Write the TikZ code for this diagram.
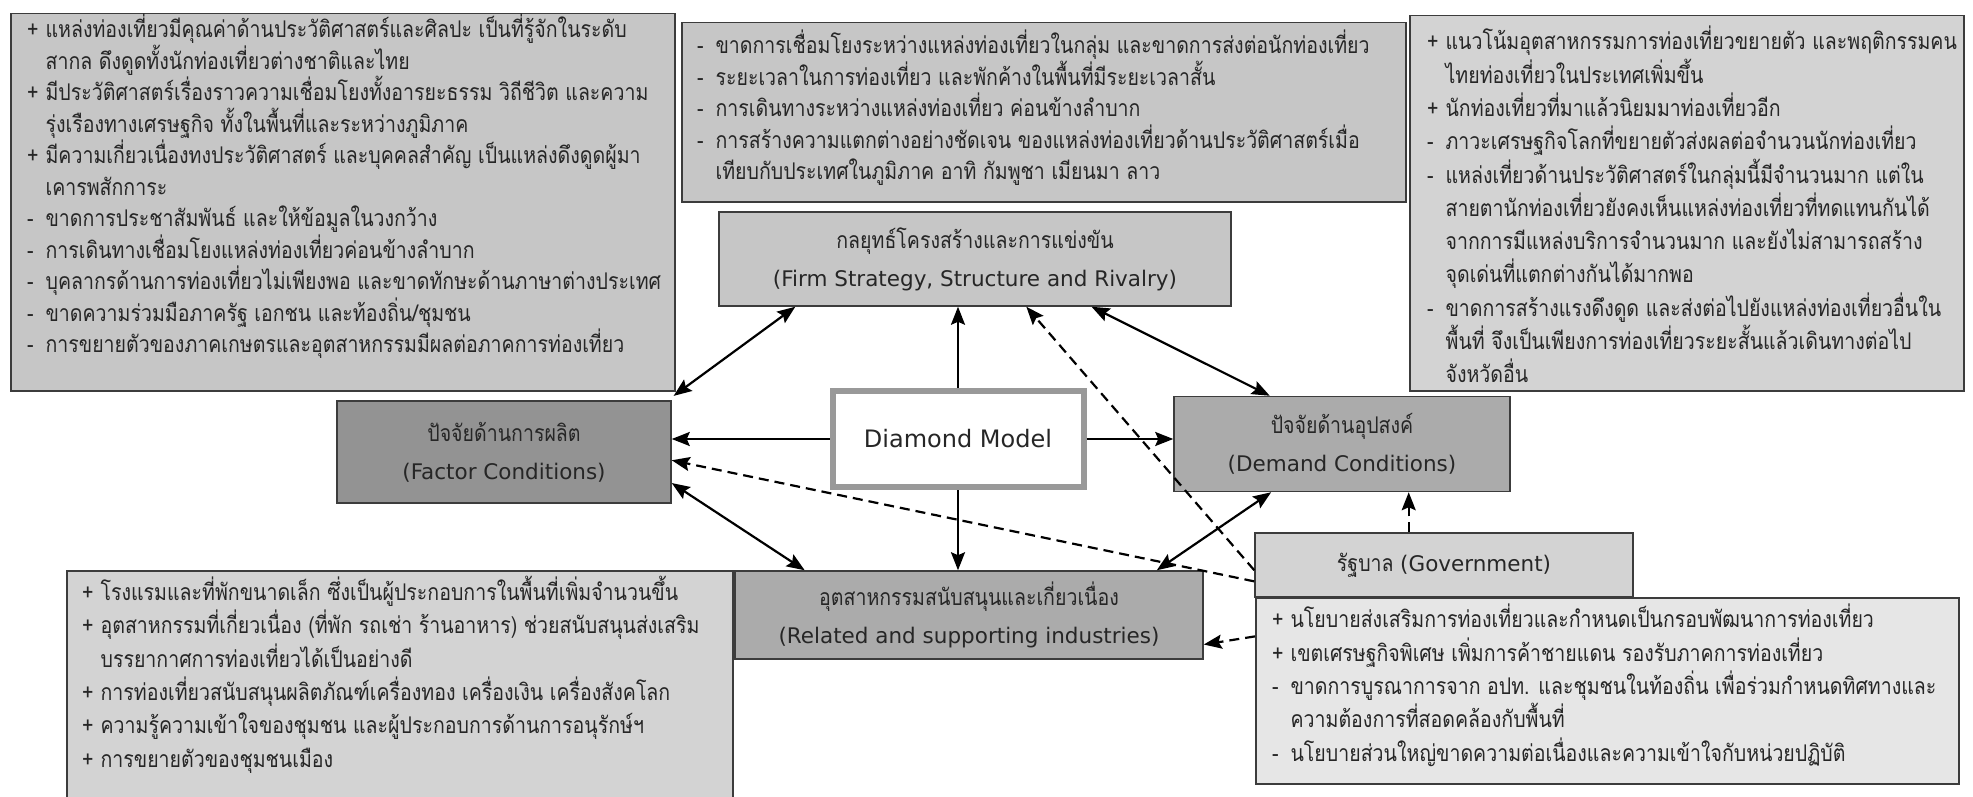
\documentclass[tikz,border=0pt]{standalone}
\usepackage{fontspec}
\setmainfont[Script=Thai,FakeStretch=0.85]{Loma}
\newfontfamily\engfont{DejaVu Sans}
\usetikzlibrary{arrows.meta,calc}

\definecolor{infodark}{HTML}{C6C6C6}
\definecolor{infolight}{HTML}{D3D3D3}
\definecolor{infopale}{HTML}{E6E6E6}
\definecolor{factorfill}{HTML}{939393}
\definecolor{demandfill}{HTML}{ABABAB}
\definecolor{edgegray}{HTML}{3C3C3C}
\definecolor{ringgray}{HTML}{999999}

\newcommand{\plusline}{\makebox[0.8em][l]{+}}
\newcommand{\minusline}{\makebox[0.8em][l]{-}}
\newcommand{\contline}{\hspace*{0.8em}}
\newcommand{\eng}[1]{{\engfont\fontsize{21.5}{38}\selectfont #1}}

\tikzset{
  infobox/.style={draw=edgegray, line width=1.5pt, anchor=north west, inner sep=0pt},
  infotext/.style={anchor=north west, align=left, inner sep=0pt,
    font=\fontsize{23}{31.5}\selectfont, text=black!85},
  widetext/.style={infotext, font=\fontsize{23}{33.3}\selectfont},
  mainbox/.style={draw=edgegray, line width=1.5pt, align=center,
    font=\fontsize{23}{38}\selectfont, text=black!85},
  link/.style={line width=2.2pt, -{Stealth[length=18pt,width=14pt,inset=3pt]}},
  bothlink/.style={line width=2.2pt,
    {Stealth[length=18pt,width=14pt,inset=3pt]}-{Stealth[length=18pt,width=14pt,inset=3pt]}},
  govlink/.style={line width=2.2pt, dash pattern=on 10pt off 6pt,
    -{Stealth[length=18pt,width=14pt,inset=3pt]}}
}

\begin{document}
\begin{tikzpicture}[x=1pt, y=-1pt]
  \useasboundingbox (0,0) rectangle (1973,797);

  % info boxes
  \node[infobox, fill=infodark, minimum width=664, minimum height=377] (tl) at (10,13) {};
  \node[infotext] (tltext) at (27,14) {%
    \plusline แหล่งท่องเที่ยวมีคุณค่าด้านประวัติศาสตร์และศิลปะ เป็นที่รู้จักในระดับ\\
    \contline สากล ดึงดูดทั้งนักท่องเที่ยวต่างชาติและไทย\\
    \plusline มีประวัติศาสตร์เรื่องราวความเชื่อมโยงทั้งอารยะธรรม วิถีชีวิต และความ\\
    \contline รุ่งเรืองทางเศรษฐกิจ ทั้งในพื้นที่และระหว่างภูมิภาค\\
    \plusline มีความเกี่ยวเนื่องทงประวัติศาสตร์ และบุคคลสำคัญ เป็นแหล่งดึงดูดผู้มา\\
    \contline เคารพสักการะ\\
    \minusline ขาดการประชาสัมพันธ์ และให้ข้อมูลในวงกว้าง\\
    \minusline การเดินทางเชื่อมโยงแหล่งท่องเที่ยวค่อนข้างลำบาก\\
    \minusline บุคลากรด้านการท่องเที่ยวไม่เพียงพอ และขาดทักษะด้านภาษาต่างประเทศ\\
    \minusline ขาดความร่วมมือภาครัฐ เอกชน และท้องถิ่น/ชุมชน\\
    \minusline การขยายตัวของภาคเกษตรและอุตสาหกรรมมีผลต่อภาคการท่องเที่ยว};

  \node[infobox, fill=infodark, minimum width=724, minimum height=179] (tm) at (681,22) {};
  \node[infotext] (tmtext) at (697,30) {%
    \minusline ขาดการเชื่อมโยงระหว่างแหล่งท่องเที่ยวในกลุ่ม และขาดการส่งต่อนักท่องเที่ยว\\
    \minusline ระยะเวลาในการท่องเที่ยว และพักค้างในพื้นที่มีระยะเวลาสั้น\\
    \minusline การเดินทางระหว่างแหล่งท่องเที่ยว ค่อนข้างลำบาก\\
    \minusline การสร้างความแตกต่างอย่างชัดเจน ของแหล่งท่องเที่ยวด้านประวัติศาสตร์เมื่อ\\
    \contline เทียบกับประเทศในภูมิภาค อาทิ กัมพูชา เมียนมา ลาว};

  \node[infobox, fill=infolight, minimum width=554, minimum height=375] (tr) at (1409,15) {};
  \node[widetext] (trtext) at (1427,26) {%
    \plusline แนวโน้มอุตสาหกรรมการท่องเที่ยวขยายตัว และพฤติกรรมคน\\
    \contline ไทยท่องเที่ยวในประเทศเพิ่มขึ้น\\
    \plusline นักท่องเที่ยวที่มาแล้วนิยมมาท่องเที่ยวอีก\\
    \minusline ภาวะเศรษฐกิจโลกที่ขยายตัวส่งผลต่อจำนวนนักท่องเที่ยว\\
    \minusline แหล่งเที่ยวด้านประวัติศาสตร์ในกลุ่มนี้มีจำนวนมาก แต่ใน\\
    \contline สายตานักท่องเที่ยวยังคงเห็นแหล่งท่องเที่ยวที่ทดแทนกันได้\\
    \contline จากการมีแหล่งบริการจำนวนมาก และยังไม่สามารถสร้าง\\
    \contline จุดเด่นที่แตกต่างกันได้มากพอ\\
    \minusline ขาดการสร้างแรงดึงดูด และส่งต่อไปยังแหล่งท่องเที่ยวอื่นใน\\
    \contline พื้นที่ จึงเป็นเพียงการท่องเที่ยวระยะสั้นแล้วเดินทางต่อไป\\
    \contline จังหวัดอื่น};

  \node[infobox, fill=infolight, minimum width=666, minimum height=227] (bl) at (66,570) {};
  \node[widetext] (bltext) at (82,576) {%
    \plusline โรงแรมและที่พักขนาดเล็ก ซึ่งเป็นผู้ประกอบการในพื้นที่เพิ่มจำนวนขึ้น\\
    \plusline อุตสาหกรรมที่เกี่ยวเนื่อง (ที่พัก รถเช่า ร้านอาหาร) ช่วยสนับสนุนส่งเสริม\\
    \contline บรรยากาศการท่องเที่ยวได้เป็นอย่างดี\\
    \plusline การท่องเที่ยวสนับสนุนผลิตภัณฑ์เครื่องทอง เครื่องเงิน เครื่องสังคโลก\\
    \plusline ความรู้ความเข้าใจของชุมชน และผู้ประกอบการด้านการอนุรักษ์ฯ\\
    \plusline การขยายตัวของชุมชนเมือง};

  \node[infobox, fill=infopale, minimum width=703, minimum height=186] (br) at (1255,597) {};
  \node[widetext] (brtext) at (1272,604) {%
    \plusline นโยบายส่งเสริมการท่องเที่ยวและกำหนดเป็นกรอบพัฒนาการท่องเที่ยว\\
    \plusline เขตเศรษฐกิจพิเศษ เพิ่มการค้าชายแดน รองรับภาคการท่องเที่ยว\\
    \minusline ขาดการบูรณาการจาก อปท. และชุมชนในท้องถิ่น เพื่อร่วมกำหนดทิศทางและ\\
    \contline ความต้องการที่สอดคล้องกับพื้นที่\\
    \minusline นโยบายส่วนใหญ่ขาดความต่อเนื่องและความเข้าใจกับหน่วยปฏิบัติ};

  % diamond factors
  \node[mainbox, fill=infodark, minimum width=512, minimum height=94] (fs) at (975,259)
    {กลยุทธ์โครงสร้างและการแข่งขัน\\\eng{(Firm Strategy, Structure and Rivalry)}};
  \node[mainbox, fill=factorfill, minimum width=334, minimum height=102] (fc) at (504,452)
    {ปัจจัยด้านการผลิต\\\eng{(Factor Conditions)}};
  \node[mainbox, fill=demandfill, minimum width=336, minimum height=95] (dc) at (1342,444)
    {ปัจจัยด้านอุปสงค์\\\eng{(Demand Conditions)}};
  \node[mainbox, fill=demandfill, minimum width=468, minimum height=88] (rs) at (969,615)
    {อุตสาหกรรมสนับสนุนและเกี่ยวเนื่อง\\\eng{(Related and supporting industries)}};
  \node[mainbox, fill=infolight, minimum width=378, minimum height=64] (gv) at (1444,565)
    {รัฐบาล \eng{(Government)}};
  \node[draw=ringgray, line width=6pt, fill=white, minimum width=251, minimum height=96,
    font=\engfont\fontsize{24}{28}\selectfont, text=black!85] (dm) at (958,439) {Diamond Model};

  % links
  \draw[link] (dm.north) -- (dm.north |- fs.south);
  \draw[link] (dm.west) -- (dm.west -| fc.east);
  \draw[link] (dm.east) -- (dm.east -| dc.west);
  \draw[link] (dm.south) -- (dm.south |- rs.north);
  \draw[bothlink] ($(fs.south west)!0.15!(fs.south east)$) -- ($(tl.south east)!0.5!(fc.north east)$);
  \draw[bothlink] ($(fs.south west)!0.727!(fs.south east)$) -- ($(dc.north west)!0.286!(dc.north east)$);
  \draw[bothlink] ($(fc.north east)!0.8!(fc.south east)$) -- ($(rs.north west)!0.15!(rs.north east)$);
  \draw[bothlink] ($(dc.south west)!0.29!(dc.south east)$) -- ($(rs.north west)!0.9!(rs.north east)$);

  % government
  \coordinate (gvtop) at ($(gv.north west)!0.407!(gv.north east)$);
  \draw[govlink] (gvtop) -- (gvtop |- dc.south);
  \draw[govlink] ($(gv.north west)!0.58!(gv.south west)$) -- ($(fs.south west)!0.6!(fs.south east)$);
  \draw[govlink] ($(gv.north west)!0.75!(gv.south west)$) -- ($(fc.north east)!0.58!(fc.south east)$);
  \draw[govlink] ($(br.north west)!0.21!(br.south west)$) -- ($(rs.north east)!0.83!(rs.south east)$);
\end{tikzpicture}
\end{document}
